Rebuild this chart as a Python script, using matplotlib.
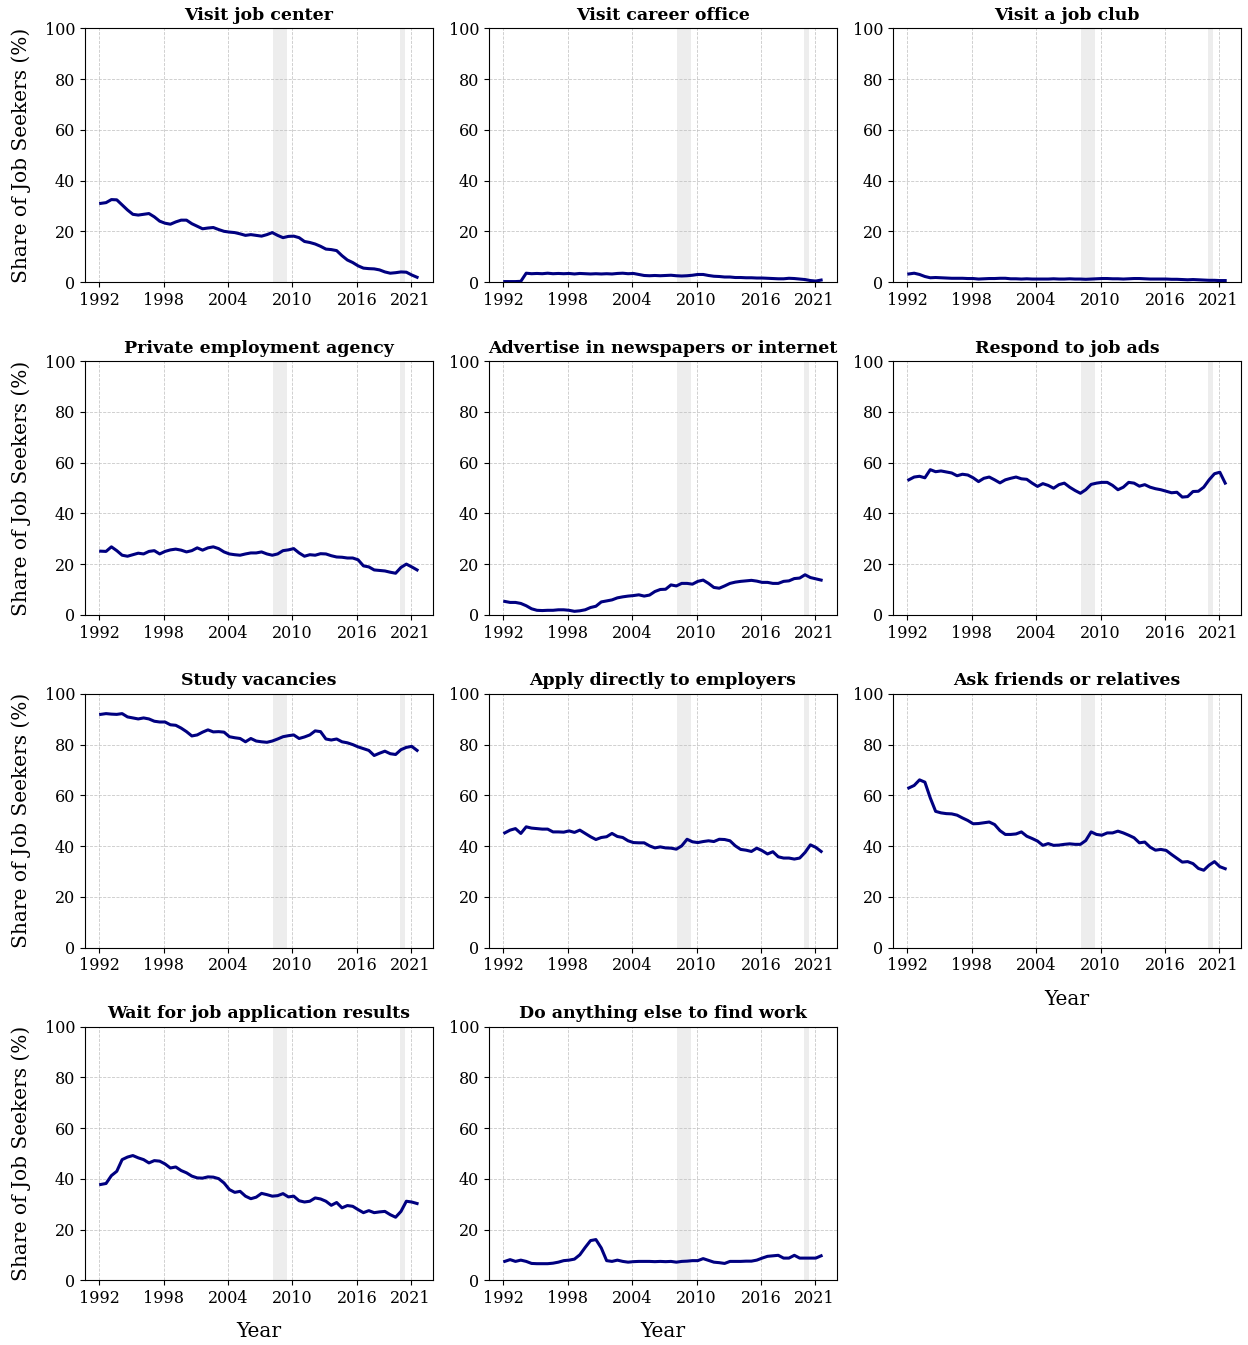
import numpy as np
import matplotlib
matplotlib.use("Agg")
import matplotlib.pyplot as plt

plt.rcParams['font.family'] = ['DejaVu Serif']

years = np.linspace(1992.15, 2021.6, 60)

titles = [
    "Visit job center", "Visit career office", "Visit a job club",
    "Private employment agency", "Advertise in newspapers or internet", "Respond to job ads",
    "Study vacancies", "Apply directly to employers", "Ask friends or relatives",
    "Wait for job application results", "Do anything else to find work",
]

visit_job_center = [31, 31.3, 32.5, 32.4, 30.4, 28.4, 26.7, 26.4, 26.7, 27, 25.7, 24, 23.2, 22.8, 23.7,
                    24.4, 24.4, 23, 22, 21, 21.3, 21.5, 20.7, 20, 19.7, 19.5, 19, 18.4, 18.7, 18.4,
                    18.1, 18.7, 19.5, 18.4, 17.5, 18, 18.1, 17.5, 16, 15.6, 15, 14.1, 13, 12.8, 12.4,
                    10.4, 8.7, 7.7, 6.4, 5.5, 5.3, 5.2, 4.8, 4, 3.5, 3.7, 4, 3.9, 2.8, 1.9]
visit_career_office = [0.2, 0.2, 0.2, 0.3, 3.5, 3.3, 3.4, 3.3, 3.5, 3.3, 3.4, 3.3, 3.4, 3.2, 3.4,
                       3.3, 3.2, 3.3, 3.2, 3.3, 3.2, 3.4, 3.5, 3.3, 3.4, 3.0, 2.6, 2.5, 2.6, 2.5,
                       2.6, 2.7, 2.5, 2.4, 2.5, 2.7, 3.0, 3.0, 2.6, 2.3, 2.2, 2.0, 2.0, 1.8, 1.8,
                       1.7, 1.7, 1.6, 1.6, 1.5, 1.4, 1.3, 1.3, 1.5, 1.4, 1.2, 1.0, 0.6, 0.4, 0.8]
visit_job_club = [3.2, 3.5, 3.0, 2.2, 1.7, 1.8, 1.7, 1.6, 1.5, 1.5, 1.5, 1.4, 1.4, 1.2, 1.3,
                  1.4, 1.4, 1.5, 1.5, 1.3, 1.3, 1.2, 1.3, 1.2, 1.2, 1.2, 1.2, 1.3, 1.2, 1.2,
                  1.3, 1.2, 1.2, 1.1, 1.2, 1.3, 1.4, 1.4, 1.3, 1.3, 1.2, 1.3, 1.4, 1.4, 1.3,
                  1.2, 1.2, 1.2, 1.2, 1.1, 1.1, 1.0, 0.9, 1.0, 0.9, 0.8, 0.7, 0.7, 0.6, 0.6]
private_agency = [25.1, 25, 26.8, 25.3, 23.5, 23.1, 23.7, 24.3, 24, 25, 25.3, 24, 25, 25.6, 25.9,
                  25.5, 24.8, 25.3, 26.4, 25.5, 26.4, 26.8, 26.1, 24.8, 24, 23.7, 23.5, 24, 24.4, 24.4,
                  24.8, 24, 23.5, 24, 25.3, 25.6, 26.1, 24.4, 23.1, 23.7, 23.5, 24.1, 24, 23.3, 22.8,
                  22.7, 22.4, 22.4, 21.7, 19.3, 18.9, 17.7, 17.5, 17.3, 16.8, 16.4, 18.7, 20, 18.9, 17.7]
advertise = [5.3, 4.9, 4.9, 4.5, 3.6, 2.4, 1.8, 1.7, 1.8, 1.8, 2, 2, 1.8, 1.4, 1.6,
             2, 2.9, 3.4, 5.1, 5.5, 5.9, 6.7, 7.1, 7.4, 7.6, 7.9, 7.4, 7.8, 9.2, 10,
             10.1, 11.8, 11.4, 12.4, 12.4, 12.1, 13.2, 13.7, 12.4, 10.8, 10.5, 11.4, 12.4, 12.9, 13.2,
             13.4, 13.6, 13.3, 12.8, 12.8, 12.4, 12.4, 13.2, 13.4, 14.3, 14.5, 15.8, 14.7, 14.2, 13.7]
respond_ads = [53.2, 54.3, 54.6, 54, 57.2, 56.4, 56.7, 56.3, 55.9, 54.8, 55.4, 55.1, 54, 52.5, 53.8,
               54.3, 53.2, 52, 53.2, 53.8, 54.3, 53.6, 53.4, 51.9, 50.6, 51.7, 51, 49.9, 51.3, 51.9,
               50.3, 49, 47.9, 49.3, 51.4, 51.9, 52.2, 52.2, 51, 49.3, 50.3, 52.2, 51.9, 50.7, 51.3,
               50.3, 49.7, 49.3, 48.7, 48.1, 48.3, 46.4, 46.6, 48.6, 48.7, 50.3, 53.2, 55.6, 56.2, 51.9]
study_vacancies = [91.9, 92.2, 92.0, 91.9, 92.2, 90.9, 90.5, 90.1, 90.5, 90.1, 89.2, 88.9, 88.9, 87.8, 87.6,
                   86.5, 85.1, 83.4, 83.8, 84.9, 85.8, 85, 85.1, 84.9, 83.1, 82.7, 82.4, 81.1, 82.4, 81.4,
                   81.1, 80.9, 81.4, 82.2, 83.1, 83.5, 83.8, 82.4, 83, 83.8, 85.4, 85.1, 82.2, 81.8, 82.2,
                   81.1, 80.7, 80, 79.1, 78.4, 77.7, 75.7, 76.6, 77.4, 76.4, 76.1, 78, 78.9, 79.3, 77.7]
apply_directly = [45.2, 46.3, 46.9, 45, 47.6, 47.1, 46.9, 46.7, 46.7, 45.6, 45.6, 45.5, 46, 45.4, 46.3,
                  45, 43.7, 42.6, 43.4, 43.7, 45, 43.8, 43.4, 42.1, 41.4, 41.3, 41.3, 40.1, 39.3, 39.7,
                  39.3, 39.2, 38.8, 40.1, 42.7, 41.7, 41.4, 41.8, 42.1, 41.8, 42.7, 42.6, 42.1, 40.1, 38.7,
                  38.4, 37.9, 39.2, 38.2, 36.9, 37.8, 35.8, 35.3, 35.3, 34.9, 35.3, 37.5, 40.5, 39.5, 37.9]
ask_friends = [62.9, 63.9, 66.1, 65.2, 59, 53.7, 53.1, 52.8, 52.7, 52.2, 51.1, 50.1, 48.8, 48.9, 49.2,
               49.5, 48.5, 46.1, 44.6, 44.6, 44.8, 45.6, 43.9, 43, 42, 40.3, 41, 40.3, 40.4, 40.7,
               40.9, 40.7, 40.7, 42.2, 45.6, 44.6, 44.3, 45.2, 45.2, 45.9, 45.2, 44.3, 43.3, 41.3, 41.6,
               39.6, 38.4, 38.7, 38.3, 36.7, 35.2, 33.7, 33.9, 33.1, 31.2, 30.5, 32.5, 33.9, 31.9, 31.1]
wait_results = [37.8, 38.2, 41.3, 43, 47.6, 48.6, 49.2, 48.3, 47.6, 46.3, 47.2, 47, 45.9, 44.3, 44.7,
                43.3, 42.4, 41.1, 40.4, 40.3, 40.8, 40.7, 40.1, 38.4, 35.8, 34.7, 35.1, 33.2, 32.2, 32.8,
                34.3, 33.8, 33.2, 33.4, 34.2, 32.9, 33.2, 31.4, 30.9, 31.2, 32.5, 32.1, 31.2, 29.6, 30.7,
                28.6, 29.5, 29.2, 27.9, 26.7, 27.5, 26.7, 27, 27.2, 25.9, 24.9, 27.2, 31.2, 30.9, 30.3]
anything_else = [7.5, 8.2, 7.5, 8, 7.5, 6.7, 6.6, 6.6, 6.6, 6.8, 7.2, 7.8, 8, 8.4, 10.1,
                 13, 15.7, 16.1, 12.8, 7.8, 7.5, 8, 7.5, 7.2, 7.4, 7.5, 7.5, 7.5, 7.4, 7.5,
                 7.4, 7.5, 7.2, 7.5, 7.6, 7.8, 7.8, 8.6, 7.9, 7.2, 7, 6.7, 7.5, 7.5, 7.5,
                 7.6, 7.6, 8, 8.8, 9.5, 9.7, 9.9, 8.8, 8.8, 9.9, 8.8, 8.8, 8.8, 8.8, 9.7]

series = [visit_job_center, visit_career_office, visit_job_club, private_agency, advertise,
          respond_ads, study_vacancies, apply_directly, ask_friends, wait_results, anything_else]

recessions = [(2008.15, 2009.5), (2020.0, 2020.5)]
xticks = [1992, 1998, 2004, 2010, 2016, 2021]

fig, axes = plt.subplots(4, 3, figsize=(12.48, 13.45), dpi=100)
fig.subplots_adjust(left=0.068, right=0.9944, top=0.979, bottom=0.048, wspace=0.161, hspace=0.311)

for i, ax in enumerate(axes.flat):
    if i >= len(series):
        ax.axis('off')
        continue
    for a, b in recessions:
        ax.axvspan(a, b, color='lightgray', alpha=0.4, lw=0)
    ax.plot(years, series[i], color='navy', lw=2.2)
    ax.set_ylim(0, 100)
    ax.set_xticks(xticks)
    ax.set_yticks([0, 20, 40, 60, 80, 100])
    ax.tick_params(labelsize=11.5)
    ax.grid(True, ls='--', lw=0.6, color='#bbbbbb', alpha=0.8)
    ax.set_title(titles[i], fontsize=12.5, fontweight='bold', pad=6)
    if i % 3 == 0:
        ax.set_ylabel("Share of Job Seekers (%)", fontsize=14.5, labelpad=10)
    if i in (8, 9, 10):
        ax.set_xlabel("Year", fontsize=14.5, labelpad=11)

fig.savefig("out.png", dpi=100)
